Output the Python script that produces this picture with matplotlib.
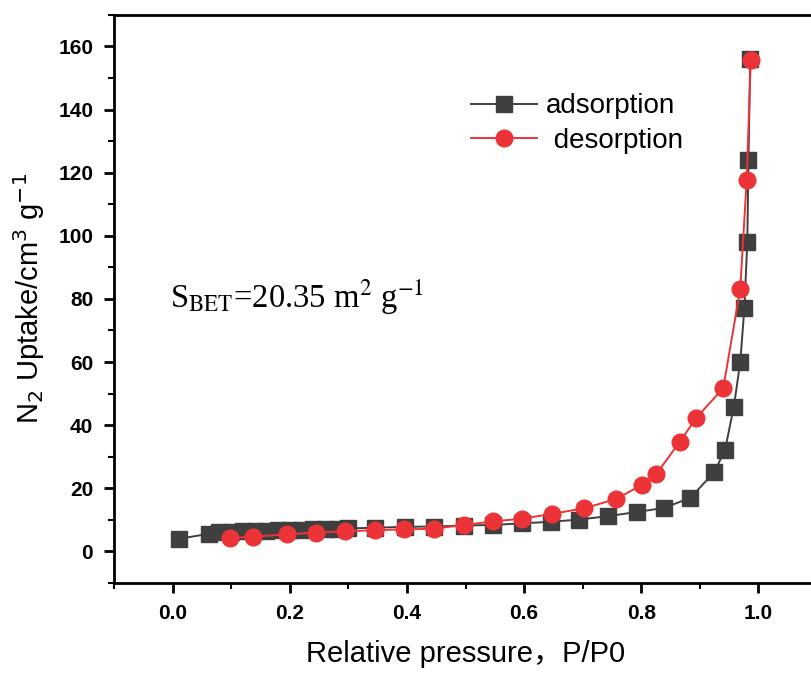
import matplotlib
matplotlib.use('Agg')
import matplotlib.pyplot as plt
from matplotlib.ticker import MultipleLocator, FormatStrFormatter

# adsorption branch (P/P0, uptake)
ads_p = [0.011, 0.062, 0.08, 0.10, 0.12, 0.14, 0.16, 0.18, 0.20, 0.22, 0.24, 0.26,
         0.28, 0.30, 0.346, 0.396, 0.447, 0.497, 0.547, 0.596, 0.646, 0.694, 0.744,
         0.793, 0.839, 0.884, 0.925, 0.943, 0.958, 0.969, 0.976, 0.981, 0.983, 0.986]
ads_v = [4.0, 5.6, 6.1, 6.3, 6.4, 6.5, 6.6, 6.7, 6.8, 6.9, 7.0, 7.1,
         7.2, 7.3, 7.5, 7.8, 7.9, 8.2, 8.4, 8.9, 9.4, 10.1, 11.2,
         12.5, 13.8, 17.0, 25.2, 32.2, 45.8, 60.0, 77.0, 98.0, 124.0, 156.0]

# desorption branch
des_p = [0.098, 0.137, 0.195, 0.245, 0.295, 0.345, 0.395, 0.447, 0.497, 0.547, 0.597,
         0.648, 0.703, 0.757, 0.802, 0.826, 0.866, 0.894, 0.940, 0.969, 0.980, 0.987]
des_v = [4.2, 4.7, 5.4, 6.0, 6.4, 6.7, 7.0, 7.2, 8.4, 9.5, 10.4,
         11.9, 13.7, 16.6, 21.2, 24.6, 34.8, 42.3, 51.8, 83.2, 117.8, 155.8]

GREY = '#3f3f3f'
RED = '#ec3337'

plt.rcParams['font.family'] = ['Liberation Sans', 'Noto Sans CJK SC', 'DejaVu Sans']

fig = plt.figure(figsize=(8.11, 6.74), dpi=100)
ax = fig.add_axes([0.1406, 0.135, 0.8668, 0.843])

ax.plot(ads_p, ads_v, color=GREY, linewidth=1.4, marker='s', markersize=11.5,
        label='adsorption', zorder=3)
ax.plot(des_p, des_v, color=RED, linewidth=1.4, marker='o', markersize=12,
        label=' desorption', zorder=4)

ax.set_xlim(-0.1, 1.1)
ax.set_ylim(-10, 170)
ax.xaxis.set_major_locator(MultipleLocator(0.2))
ax.xaxis.set_minor_locator(MultipleLocator(0.1))
ax.yaxis.set_major_locator(MultipleLocator(20))
ax.yaxis.set_minor_locator(MultipleLocator(10))
ax.xaxis.set_major_formatter(FormatStrFormatter('%.1f'))
ax.tick_params(which='major', direction='out', length=7, width=2, labelsize=15, pad=8)
ax.tick_params(which='minor', direction='out', length=4, width=1.5)
ax.tick_params(top=False, right=False)
for lbl in ax.get_xticklabels() + ax.get_yticklabels():
    lbl.set_fontweight('bold')
for s in ax.spines.values():
    s.set_linewidth(2)

ax.set_xlabel('Relative pressure，P/P0', fontsize=21, labelpad=12)
ax.set_ylabel('N$_2$ Uptake/cm$^3$ g$^{-1}$', fontsize=21, labelpad=8)

ax.text(0.08, 0.502, 'S$_{\\mathrm{BET}}$=20.35 m$^2$ g$^{\\mathrm{-1}}$',
        transform=ax.transAxes, fontsize=23.5, family='Liberation Serif',
        math_fontfamily='stix', va='center', ha='left')

ax.legend(loc='upper left', bbox_to_anchor=(0.472, 0.906), frameon=False,
          fontsize=20, handlelength=2.4, handletextpad=0.3, labelspacing=0.3)

fig.savefig('out.png', dpi=100)
